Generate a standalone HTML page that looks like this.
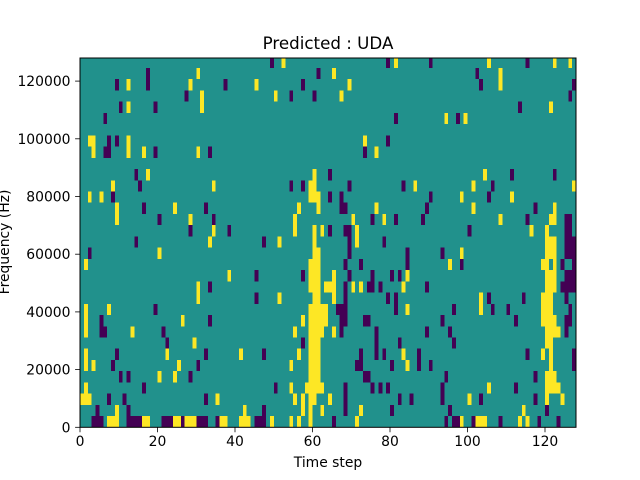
<!DOCTYPE html>
<html><head><meta charset="utf-8"><style>
html,body{margin:0;padding:0;background:#fff;}
svg{display:block;font-family:"DejaVu Sans","Liberation Sans",sans-serif;}
.y rect{fill:#fde725}
.p rect{fill:#440154}
</style></head><body>
<svg width="640" height="480" viewBox="0 0 640 480" xmlns="http://www.w3.org/2000/svg">
<defs><clipPath id="c"><rect x="80" y="58" width="496" height="369.3"/></clipPath></defs>
<rect x="80" y="58" width="496" height="369.3" fill="#21918c"/>
<g clip-path="url(#c)"><g transform="translate(80,56.78) scale(3.875,11.228)" shape-rendering="crispEdges">
<g class="y">
<rect x="52" y="0" width="1" height="1"/><rect x="81" y="0" width="1" height="1"/><rect x="105" y="0" width="1" height="1"/><rect x="122" y="0" width="1" height="1"/><rect x="126" y="0" width="1" height="1"/>
<rect x="30" y="1" width="1" height="1"/><rect x="65" y="1" width="1" height="1"/><rect x="108" y="1" width="1" height="2"/>
<rect x="12" y="2" width="1" height="1"/><rect x="28" y="2" width="1" height="1"/><rect x="45" y="2" width="1" height="1"/><rect x="69" y="2" width="1" height="1"/>
<rect x="31" y="3" width="1" height="2"/><rect x="50" y="3" width="1" height="1"/><rect x="67" y="3" width="1" height="1"/>
<rect x="12" y="4" width="1" height="1"/><rect x="121" y="4" width="1" height="1"/>
<rect x="94" y="5" width="1" height="1"/><rect x="99" y="5" width="1" height="1"/>
<rect x="2" y="7" width="2" height="1"/><rect x="12" y="7" width="1" height="2"/><rect x="73" y="7" width="1" height="1"/>
<rect x="3" y="8" width="1" height="1"/><rect x="16" y="8" width="1" height="1"/><rect x="30" y="8" width="1" height="1"/><rect x="76" y="8" width="1" height="1"/>
<rect x="17" y="10" width="1" height="1"/><rect x="60" y="10" width="1" height="1"/><rect x="104" y="10" width="1" height="1"/>
<rect x="8" y="11" width="1" height="1"/><rect x="34" y="11" width="1" height="1"/><rect x="59" y="11" width="2" height="1"/><rect x="86" y="11" width="1" height="1"/><rect x="101" y="11" width="1" height="1"/><rect x="127" y="11" width="1" height="1"/>
<rect x="2" y="12" width="1" height="1"/><rect x="5" y="12" width="1" height="1"/><rect x="59" y="12" width="3" height="1"/><rect x="98" y="12" width="1" height="1"/><rect x="111" y="12" width="1" height="1"/>
<rect x="9" y="13" width="1" height="2"/><rect x="24" y="13" width="1" height="1"/><rect x="56" y="13" width="1" height="1"/><rect x="61" y="13" width="1" height="1"/><rect x="76" y="13" width="1" height="1"/><rect x="101" y="13" width="1" height="1"/><rect x="122" y="13" width="1" height="1"/>
<rect x="28" y="14" width="1" height="1"/><rect x="55" y="14" width="1" height="2"/><rect x="70" y="14" width="1" height="1"/><rect x="78" y="14" width="1" height="1"/><rect x="108" y="14" width="1" height="1"/><rect x="121" y="14" width="2" height="1"/>
<rect x="34" y="15" width="1" height="1"/><rect x="60" y="15" width="1" height="1"/><rect x="62" y="15" width="1" height="1"/><rect x="71" y="15" width="1" height="2"/><rect x="116" y="15" width="1" height="1"/><rect x="120" y="15" width="1" height="1"/>
<rect x="33" y="16" width="1" height="1"/><rect x="51" y="16" width="1" height="1"/><rect x="60" y="16" width="1" height="1"/><rect x="120" y="16" width="3" height="2"/>
<rect x="20" y="17" width="1" height="1"/><rect x="60" y="17" width="2" height="1"/><rect x="98" y="17" width="1" height="1"/>
<rect x="1" y="18" width="1" height="1"/><rect x="59" y="18" width="3" height="2"/><rect x="95" y="18" width="1" height="1"/><rect x="119" y="18" width="2" height="1"/><rect x="122" y="18" width="1" height="1"/>
<rect x="38" y="19" width="1" height="1"/><rect x="65" y="19" width="1" height="1"/><rect x="84" y="19" width="1" height="1"/><rect x="120" y="19" width="3" height="2"/>
<rect x="30" y="20" width="1" height="2"/><rect x="63" y="20" width="3" height="1"/><rect x="59" y="20" width="3" height="1"/><rect x="70" y="20" width="1" height="1"/><rect x="72" y="20" width="1" height="1"/><rect x="83" y="20" width="1" height="1"/>
<rect x="51" y="21" width="1" height="1"/><rect x="60" y="21" width="2" height="1"/><rect x="65" y="21" width="1" height="1"/><rect x="103" y="21" width="1" height="2"/><rect x="119" y="21" width="3" height="1"/>
<rect x="1" y="22" width="1" height="3"/><rect x="7" y="22" width="1" height="1"/><rect x="59" y="22" width="5" height="2"/><rect x="63" y="22" width="1" height="2"/><rect x="84" y="22" width="1" height="1"/><rect x="119" y="22" width="3" height="1"/>
<rect x="26" y="23" width="1" height="1"/><rect x="57" y="23" width="1" height="1"/><rect x="119" y="23" width="4" height="1"/>
<rect x="13" y="24" width="1" height="1"/><rect x="55" y="24" width="1" height="1"/><rect x="59" y="24" width="4" height="1"/><rect x="65" y="24" width="1" height="1"/><rect x="120" y="24" width="4" height="1"/>
<rect x="29" y="25" width="1" height="1"/><rect x="59" y="25" width="3" height="1"/><rect x="120" y="25" width="2" height="1"/>
<rect x="1" y="26" width="1" height="2"/><rect x="22" y="26" width="1" height="1"/><rect x="41" y="26" width="1" height="1"/><rect x="56" y="26" width="1" height="1"/><rect x="59" y="26" width="3" height="3"/><rect x="83" y="26" width="1" height="1"/><rect x="119" y="26" width="1" height="1"/><rect x="121" y="26" width="1" height="2"/>
<rect x="3" y="27" width="1" height="1"/><rect x="25" y="27" width="1" height="1"/><rect x="54" y="27" width="1" height="1"/><rect x="84" y="27" width="1" height="1"/>
<rect x="20" y="28" width="1" height="1"/><rect x="24" y="28" width="1" height="1"/><rect x="120" y="28" width="3" height="1"/>
<rect x="1" y="29" width="1" height="1"/><rect x="54" y="29" width="1" height="1"/><rect x="58" y="29" width="5" height="1"/><rect x="105" y="29" width="1" height="1"/><rect x="120" y="29" width="4" height="1"/>
<rect x="0" y="30" width="3" height="1"/><rect x="35" y="30" width="1" height="1"/><rect x="55" y="30" width="1" height="1"/><rect x="57" y="30" width="1" height="2"/><rect x="59" y="30" width="2" height="1"/><rect x="64" y="30" width="1" height="1"/><rect x="100" y="30" width="1" height="1"/><rect x="120" y="30" width="1" height="1"/><rect x="124" y="30" width="1" height="1"/>
<rect x="9" y="31" width="1" height="2"/><rect x="42" y="31" width="1" height="1"/><rect x="59" y="31" width="1" height="2"/><rect x="62" y="31" width="1" height="1"/><rect x="72" y="31" width="1" height="1"/><rect x="114" y="31" width="1" height="1"/>
<rect x="7" y="32" width="3" height="1"/><rect x="16" y="32" width="2" height="1"/><rect x="24" y="32" width="2" height="1"/><rect x="27" y="32" width="3" height="1"/><rect x="36" y="32" width="2" height="1"/><rect x="41" y="32" width="3" height="1"/><rect x="49" y="32" width="1" height="1"/><rect x="54" y="32" width="1" height="1"/><rect x="56" y="32" width="1" height="1"/><rect x="71" y="32" width="1" height="1"/><rect x="98" y="32" width="1" height="1"/><rect x="102" y="32" width="3" height="1"/><rect x="113" y="32" width="1" height="1"/><rect x="115" y="32" width="1" height="1"/>
</g>
<g class="p">
<rect x="49" y="0" width="1" height="1"/><rect x="79" y="0" width="1" height="1"/><rect x="90" y="0" width="1" height="1"/><rect x="115" y="0" width="1" height="1"/>
<rect x="17" y="1" width="1" height="2"/><rect x="61" y="1" width="1" height="1"/><rect x="102" y="1" width="1" height="1"/>
<rect x="9" y="2" width="1" height="1"/><rect x="37" y="2" width="1" height="1"/><rect x="57" y="2" width="1" height="1"/><rect x="103" y="2" width="1" height="1"/><rect x="127" y="2" width="1" height="1"/>
<rect x="27" y="3" width="1" height="1"/><rect x="54" y="3" width="1" height="1"/><rect x="60" y="3" width="1" height="1"/><rect x="126" y="3" width="1" height="1"/>
<rect x="10" y="4" width="1" height="1"/><rect x="19" y="4" width="1" height="1"/><rect x="113" y="4" width="1" height="1"/>
<rect x="6" y="5" width="1" height="1"/><rect x="81" y="5" width="1" height="1"/><rect x="97" y="5" width="1" height="1"/>
<rect x="7" y="7" width="1" height="2"/><rect x="9" y="7" width="1" height="1"/><rect x="79" y="7" width="1" height="1"/>
<rect x="6" y="8" width="1" height="1"/><rect x="19" y="8" width="1" height="1"/><rect x="33" y="8" width="1" height="1"/><rect x="73" y="8" width="1" height="1"/>
<rect x="14" y="10" width="1" height="1"/><rect x="64" y="10" width="1" height="1"/><rect x="111" y="10" width="1" height="1"/><rect x="122" y="10" width="1" height="1"/>
<rect x="15" y="11" width="1" height="1"/><rect x="54" y="11" width="1" height="1"/><rect x="57" y="11" width="1" height="1"/><rect x="69" y="11" width="1" height="1"/><rect x="83" y="11" width="1" height="1"/><rect x="106" y="11" width="1" height="1"/>
<rect x="8" y="12" width="1" height="1"/><rect x="64" y="12" width="1" height="1"/><rect x="67" y="12" width="1" height="2"/><rect x="90" y="12" width="1" height="1"/><rect x="105" y="12" width="1" height="1"/>
<rect x="16" y="13" width="1" height="1"/><rect x="32" y="13" width="1" height="1"/><rect x="68" y="13" width="1" height="1"/><rect x="89" y="13" width="1" height="1"/><rect x="117" y="13" width="1" height="1"/>
<rect x="20" y="14" width="1" height="1"/><rect x="34" y="14" width="1" height="1"/><rect x="75" y="14" width="1" height="1"/><rect x="81" y="14" width="1" height="1"/><rect x="88" y="14" width="1" height="1"/><rect x="115" y="14" width="1" height="1"/><rect x="125" y="14" width="2" height="2"/>
<rect x="28" y="15" width="1" height="1"/><rect x="38" y="15" width="1" height="1"/><rect x="64" y="15" width="1" height="1"/><rect x="68" y="15" width="2" height="1"/><rect x="100" y="15" width="1" height="1"/>
<rect x="14" y="16" width="1" height="1"/><rect x="47" y="16" width="1" height="1"/><rect x="69" y="16" width="1" height="2"/><rect x="78" y="16" width="1" height="1"/><rect x="125" y="16" width="3" height="2"/>
<rect x="2" y="17" width="1" height="1"/><rect x="84" y="17" width="1" height="2"/><rect x="93" y="17" width="1" height="1"/>
<rect x="68" y="18" width="1" height="1"/><rect x="72" y="18" width="1" height="1"/><rect x="98" y="18" width="1" height="1"/><rect x="124" y="18" width="1" height="1"/><rect x="127" y="18" width="1" height="1"/>
<rect x="45" y="19" width="1" height="1"/><rect x="57" y="19" width="1" height="1"/><rect x="69" y="19" width="1" height="1"/><rect x="75" y="19" width="1" height="1"/><rect x="80" y="19" width="1" height="1"/><rect x="82" y="19" width="1" height="1"/><rect x="125" y="19" width="3" height="1"/>
<rect x="33" y="20" width="1" height="1"/><rect x="68" y="20" width="1" height="4"/><rect x="74" y="20" width="2" height="1"/><rect x="77" y="20" width="1" height="1"/><rect x="89" y="20" width="1" height="1"/><rect x="124" y="20" width="4" height="1"/>
<rect x="45" y="21" width="1" height="1"/><rect x="79" y="21" width="1" height="1"/><rect x="81" y="21" width="1" height="2"/><rect x="105" y="21" width="1" height="1"/><rect x="114" y="21" width="1" height="1"/><rect x="125" y="21" width="1" height="1"/>
<rect x="19" y="22" width="1" height="1"/><rect x="66" y="22" width="2" height="1"/><rect x="96" y="22" width="1" height="1"/><rect x="106" y="22" width="1" height="1"/><rect x="110" y="22" width="1" height="1"/><rect x="126" y="22" width="1" height="1"/>
<rect x="5" y="23" width="1" height="2"/><rect x="33" y="23" width="1" height="1"/><rect x="67" y="23" width="1" height="2"/><rect x="73" y="23" width="2" height="1"/><rect x="93" y="23" width="1" height="1"/><rect x="112" y="23" width="1" height="1"/><rect x="125" y="23" width="2" height="1"/>
<rect x="6" y="24" width="1" height="1"/><rect x="21" y="24" width="1" height="1"/><rect x="76" y="24" width="1" height="3"/><rect x="89" y="24" width="1" height="1"/><rect x="95" y="24" width="1" height="1"/><rect x="125" y="24" width="1" height="1"/>
<rect x="22" y="25" width="1" height="1"/><rect x="57" y="25" width="1" height="1"/><rect x="82" y="25" width="1" height="1"/><rect x="96" y="25" width="1" height="1"/>
<rect x="9" y="26" width="1" height="1"/><rect x="32" y="26" width="1" height="1"/><rect x="47" y="26" width="1" height="1"/><rect x="72" y="26" width="1" height="2"/><rect x="78" y="26" width="1" height="1"/><rect x="87" y="26" width="1" height="2"/><rect x="115" y="26" width="1" height="1"/><rect x="127" y="26" width="1" height="2"/>
<rect x="8" y="27" width="1" height="1"/><rect x="30" y="27" width="1" height="1"/><rect x="71" y="27" width="1" height="1"/><rect x="80" y="27" width="1" height="1"/><rect x="90" y="27" width="1" height="1"/>
<rect x="10" y="28" width="1" height="1"/><rect x="12" y="28" width="1" height="1"/><rect x="28" y="28" width="1" height="1"/><rect x="73" y="28" width="2" height="1"/><rect x="94" y="28" width="1" height="1"/><rect x="117" y="28" width="1" height="1"/>
<rect x="16" y="29" width="1" height="1"/><rect x="50" y="29" width="1" height="1"/><rect x="68" y="29" width="1" height="3"/><rect x="75" y="29" width="1" height="1"/><rect x="77" y="29" width="1" height="1"/><rect x="79" y="29" width="1" height="1"/><rect x="93" y="29" width="1" height="2"/><rect x="112" y="29" width="1" height="1"/>
<rect x="7" y="30" width="1" height="1"/><rect x="11" y="30" width="1" height="1"/><rect x="32" y="30" width="1" height="1"/><rect x="82" y="30" width="1" height="1"/><rect x="85" y="30" width="1" height="1"/><rect x="103" y="30" width="1" height="1"/><rect x="117" y="30" width="1" height="1"/>
<rect x="4" y="31" width="1" height="1"/><rect x="12" y="31" width="1" height="1"/><rect x="47" y="31" width="1" height="1"/><rect x="80" y="31" width="1" height="1"/><rect x="95" y="31" width="1" height="1"/><rect x="120" y="31" width="1" height="1"/>
<rect x="3" y="32" width="3" height="1"/><rect x="12" y="32" width="4" height="1"/><rect x="21" y="32" width="3" height="1"/><rect x="26" y="32" width="1" height="1"/><rect x="30" y="32" width="3" height="1"/><rect x="35" y="32" width="1" height="1"/><rect x="45" y="32" width="3" height="1"/><rect x="65" y="32" width="1" height="1"/><rect x="94" y="32" width="1" height="1"/><rect x="96" y="32" width="2" height="1"/><rect x="101" y="32" width="1" height="1"/><rect x="108" y="32" width="1" height="1"/><rect x="118" y="32" width="1" height="1"/><rect x="123" y="32" width="1" height="1"/>
</g>
</g></g>
<rect x="80" y="58" width="496" height="369.3" fill="none" stroke="#000" stroke-width="1"/>
<g stroke="#000" stroke-width="0.8">
<line x1="80" y1="427.3" x2="80" y2="432.2"/><line x1="157.5" y1="427.3" x2="157.5" y2="432.2"/><line x1="235" y1="427.3" x2="235" y2="432.2"/><line x1="312.5" y1="427.3" x2="312.5" y2="432.2"/><line x1="390" y1="427.3" x2="390" y2="432.2"/><line x1="467.5" y1="427.3" x2="467.5" y2="432.2"/><line x1="545" y1="427.3" x2="545" y2="432.2"/>
<line x1="75.1" y1="427.3" x2="80" y2="427.3"/><line x1="75.1" y1="369.6" x2="80" y2="369.6"/><line x1="75.1" y1="311.9" x2="80" y2="311.9"/><line x1="75.1" y1="254.2" x2="80" y2="254.2"/><line x1="75.1" y1="196.5" x2="80" y2="196.5"/><line x1="75.1" y1="138.8" x2="80" y2="138.8"/><line x1="75.1" y1="81.1" x2="80" y2="81.1"/>
</g>
<g font-size="13.9" fill="#000" text-anchor="middle">
<text x="80" y="446">0</text><text x="157.5" y="446">20</text><text x="235" y="446">40</text><text x="312.5" y="446">60</text><text x="390" y="446">80</text><text x="467.5" y="446">100</text><text x="545" y="446">120</text>
</g>
<g font-size="13.9" fill="#000" text-anchor="end">
<text x="70.5" y="432.3">0</text><text x="70.5" y="374.6">20000</text><text x="70.5" y="316.9">40000</text><text x="70.5" y="259.2">60000</text><text x="70.5" y="201.5">80000</text><text x="70.5" y="143.8">100000</text><text x="70.5" y="86.1">120000</text>
</g>
<text x="328" y="467" font-size="13.9" text-anchor="middle">Time step</text>
<text transform="translate(9,242) rotate(-90)" font-size="13.9" text-anchor="middle">Frequency (Hz)</text>
<text x="328" y="49" font-size="16.7" text-anchor="middle">Predicted : UDA</text>
</svg>
</body></html>
